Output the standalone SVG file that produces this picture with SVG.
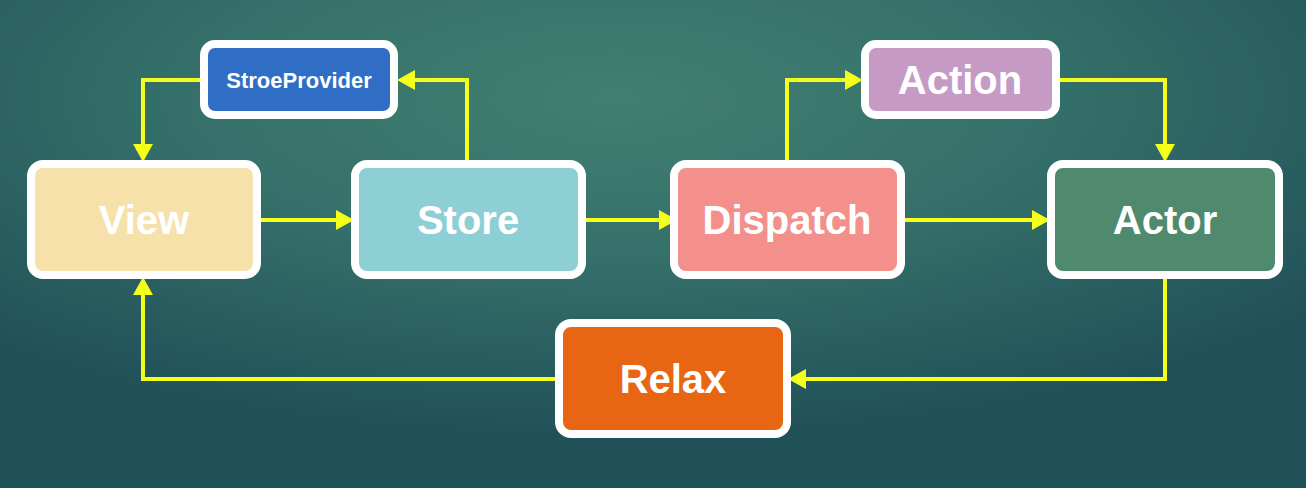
<svg xmlns="http://www.w3.org/2000/svg" width="1306" height="488" viewBox="0 0 1306 488">
  <defs>
    <radialGradient id="bg" cx="0.47" cy="0.2" r="0.72" fx="0.47" fy="0.2">
      <stop offset="0" stop-color="#417f70"/>
      <stop offset="0.45" stop-color="#35706a"/>
      <stop offset="1" stop-color="#1f4f57"/>
    </radialGradient>
    <marker id="arr" markerUnits="userSpaceOnUse" markerWidth="20" markerHeight="22" refX="6" refY="10" orient="auto">
      <path d="M0,0 L18,10 L0,20 Z" fill="#f4ff1a"/>
    </marker>
    <style>
      .box { stroke: #ffffff; stroke-width: 8; }
      .lbl { font-family: "Liberation Sans", Arial, sans-serif; font-weight: bold; font-size: 40px; fill: #ffffff; text-anchor: middle; }
      .sm { font-size: 22px; }
      .conn { fill: none; stroke: #f4ff1a; stroke-width: 4; stroke-linejoin: miter; }
    </style>
  </defs>
  <rect x="0" y="0" width="1306" height="488" fill="url(#bg)"/>

  <g id="connectors">
    <path class="conn" d="M203,80 H143 V150" marker-end="url(#arr)"/>
    <path class="conn" d="M467,162 V80 H409" marker-end="url(#arr)"/>
    <path class="conn" d="M257,220 H342" marker-end="url(#arr)"/>
    <path class="conn" d="M582,220 H665" marker-end="url(#arr)"/>
    <path class="conn" d="M787,163 V80 H851" marker-end="url(#arr)"/>
    <path class="conn" d="M1058,80 H1165 V150" marker-end="url(#arr)"/>
    <path class="conn" d="M900,220 H1038" marker-end="url(#arr)"/>
    <path class="conn" d="M1165,275 V379 H800" marker-end="url(#arr)"/>
    <path class="conn" d="M559,379 H143 V289" marker-end="url(#arr)"/>
  </g>

  <g id="storeprovider">
    <rect class="box" x="204" y="44" width="190" height="71" rx="11" fill="#2f6ec4"/>
    <text class="lbl sm" x="299" y="88">StroeProvider</text>
  </g>
  <g id="action">
    <rect class="box" x="865" y="44" width="191" height="71" rx="11" fill="#c59bc6"/>
    <text class="lbl" x="960" y="94">Action</text>
  </g>
  <g id="view">
    <rect class="box" x="31" y="164" width="226" height="111" rx="12" fill="#f5e1a9"/>
    <text class="lbl" x="144" y="234">View</text>
  </g>
  <g id="store">
    <rect class="box" x="355" y="164" width="227" height="111" rx="12" fill="#8dcfd4"/>
    <text class="lbl" x="468" y="234">Store</text>
  </g>
  <g id="dispatch">
    <rect class="box" x="674" y="164" width="227" height="111" rx="12" fill="#f3908c"/>
    <text class="lbl" x="787" y="234">Dispatch</text>
  </g>
  <g id="actor">
    <rect class="box" x="1051" y="164" width="228" height="111" rx="12" fill="#4f8a6e"/>
    <text class="lbl" x="1165" y="234">Actor</text>
  </g>
  <g id="relax">
    <rect class="box" x="559" y="323" width="228" height="111" rx="12" fill="#e86513"/>
    <text class="lbl" x="673" y="393">Relax</text>
  </g>
</svg>
